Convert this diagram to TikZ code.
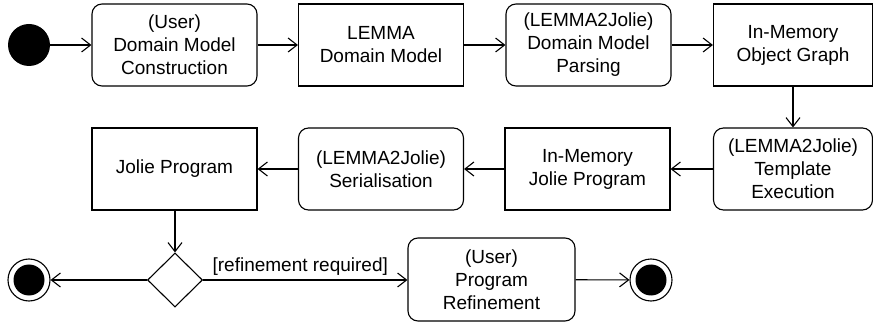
\documentclass[tikz,border=0pt]{standalone}
\usepackage{fontspec}
\setmainfont{Liberation Sans}
\usetikzlibrary{positioning,arrows.meta,shapes.geometric}

\tikzset{
  activity/.style={draw, line width=1.1pt, rounded corners=10pt, minimum width=165pt,
    minimum height=82pt, align=center, inner sep=2pt, font=\fontsize{19}{23}\selectfont},
  artefact/.style={activity, sharp corners},
  initial/.style={circle, fill=black, minimum size=42pt, inner sep=0pt},
  final/.style={circle, draw, line width=1.1pt, minimum size=42pt, inner sep=0pt,
    path picture={\fill (path picture bounding box.center) circle (15.5pt);}},
  decision/.style={diamond, draw, line width=1.1pt, minimum width=55pt, minimum height=54pt, inner sep=0pt},
  flow/.style={line width=1.1pt, -{Straight Barb[length=9pt,width=14pt,line width=1.1pt]}},
  guard/.style={font=\fontsize{19}{23}\selectfont, above, inner sep=4pt}
}

\begin{document}
\begin{tikzpicture}[x=1pt, y=-1pt]
  \useasboundingbox (0,0) rectangle (873,323);

  % first row
  \node[initial] (start) at (29,45) {};
  \node[activity] (construct) at (174.5,45) {(User)\\Domain Model\\Construction};
  \node[artefact] (lemmamodel) at (381,45) {LEMMA\\Domain Model};
  \node[activity] (parse) at (588.5,45) {(LEMMA2Jolie)\\Domain Model\\Parsing};
  \node[artefact, minimum width=159pt] (objgraph) at (793,45) {In-Memory\\Object Graph};

  % second row
  \node[activity, minimum width=159pt] (template) at (793,169) {(LEMMA2Jolie)\\Template\\Execution};
  \node[artefact] (memjolie) at (587.5,169) {In-Memory\\Jolie Program};
  \node[activity] (serial) at (381,169) {(LEMMA2Jolie)\\Serialisation};
  \node[artefact] (jolie) at (174.5,169) {Jolie Program};

  % third row
  \node[decision] (choice) at (175,280) {};
  \node[final] (endleft) at (29,280) {};
  \node[activity, minimum width=167pt, minimum height=83pt] (refine) at (491.5,279.5) {(User)\\Program\\Refinement};
  \node[final] (endright) at (651,280) {};

  \draw[flow] (start) -- (construct);
  \draw[flow] (construct) -- (lemmamodel);
  \draw[flow] (lemmamodel) -- (parse);
  \draw[flow] (parse) -- (objgraph);
  \draw[flow] (objgraph) -- (template);
  \draw[flow] (template) -- (memjolie);
  \draw[flow] (memjolie) -- (serial);
  \draw[flow] (serial) -- (jolie);
  \draw[flow] (jolie.south -| choice.north) -- (choice.north);
  \draw[flow] (choice.west) -- (endleft);
  \draw[flow] (choice.east) -- node[guard, xshift=-5pt] {[refinement required]} (refine.west |- choice.east);
  \draw[flow] (refine) -- (endright);
\end{tikzpicture}
\end{document}
